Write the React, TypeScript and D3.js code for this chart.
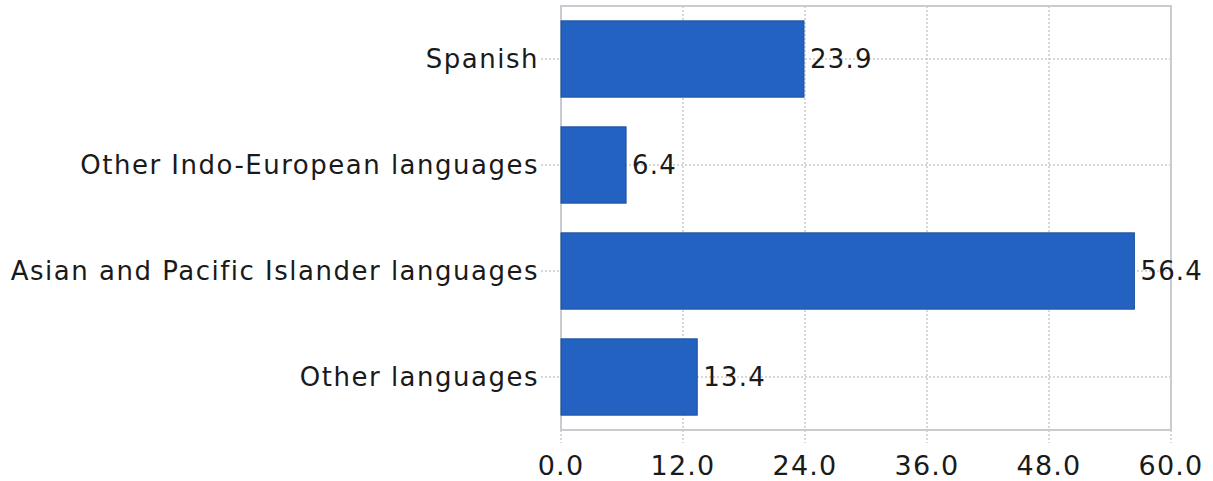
import React, { useEffect, useRef } from 'react';
import * as d3 from 'd3';

const categories = [
  'Spanish',
  'Other Indo-European languages',
  'Asian and Pacific Islander languages',
  'Other languages',
];
const values = [23.9, 6.4, 56.4, 13.4];
const xTicks = [0, 12, 24, 36, 48, 60];

export default function App() {
  const svgRef = useRef<SVGSVGElement>(null);

  useEffect(() => {
    if (!svgRef.current) return;
    const W = 1213;
    const H = 481;
    const margin = { top: 6, right: 42, bottom: 51, left: 561 };
    const width = W - margin.left - margin.right;
    const height = H - margin.top - margin.bottom;

    d3.select(svgRef.current).selectAll('*').remove();
    const svg = d3.select(svgRef.current)
      .attr('width', W)
      .attr('height', H)
      .append('g')
      .attr('transform', `translate(${margin.left},${margin.top})`);

    const font = '"DejaVu Sans", sans-serif';
    const grid = '#c6cacf';

    const x = d3.scaleLinear().domain([0, 60]).range([0, width]);
    const y = d3.scaleBand().domain(categories).range([0, height]).paddingInner(0.28).paddingOuter(0.14);
    const mid = (c: string) => y(c)! + y.bandwidth() / 2;

    // vertical grid lines + ticks below axis
    svg.selectAll('line.vgrid')
      .data(xTicks)
      .enter()
      .append('line')
      .attr('x1', d => x(d))
      .attr('x2', d => x(d))
      .attr('y1', 0)
      .attr('y2', height + 13)
      .attr('stroke', grid)
      .attr('stroke-width', 1.5)
      .attr('stroke-dasharray', '2,2');

    // horizontal grid lines through band centers, with ticks left of axis
    svg.selectAll('line.hgrid')
      .data(categories)
      .enter()
      .append('line')
      .attr('x1', -20)
      .attr('x2', width)
      .attr('y1', d => mid(d))
      .attr('y2', d => mid(d))
      .attr('stroke', grid)
      .attr('stroke-width', 1.5)
      .attr('stroke-dasharray', '2,2');

    // frame
    svg.append('rect')
      .attr('x', 0)
      .attr('y', 0)
      .attr('width', width)
      .attr('height', height)
      .attr('fill', 'none')
      .attr('stroke', '#c8ccd1')
      .attr('stroke-width', 2);

    // bars
    svg.selectAll('rect.bar')
      .data(categories)
      .enter()
      .append('rect')
      .attr('x', 0)
      .attr('y', d => y(d)!)
      .attr('width', (d, i) => x(values[i]))
      .attr('height', y.bandwidth())
      .attr('fill', '#2462c1')
      .attr('stroke', '#1d4f9c')
      .attr('stroke-width', 1);

    // value labels
    svg.selectAll('text.val')
      .data(categories)
      .enter()
      .append('text')
      .attr('x', (d, i) => x(values[i]) + 6)
      .attr('y', d => mid(d))
      .attr('dy', '0.36em')
      .style('font-family', font)
      .style('font-size', '26px')
      .style('letter-spacing', '1.2px')
      .attr('fill', '#1a1a1a')
      .text((d, i) => values[i].toFixed(1));

    // category labels
    svg.selectAll('text.cat')
      .data(categories)
      .enter()
      .append('text')
      .attr('x', -22)
      .attr('y', d => mid(d))
      .attr('dy', '0.36em')
      .attr('text-anchor', 'end')
      .style('font-family', font)
      .style('font-size', '26px')
      .style('letter-spacing', '1.5px')
      .attr('fill', '#1a1a1a')
      .text(d => d);

    // x tick labels
    svg.selectAll('text.xt')
      .data(xTicks)
      .enter()
      .append('text')
      .attr('x', d => x(d))
      .attr('y', height + 45)
      .attr('text-anchor', 'middle')
      .style('font-family', font)
      .style('font-size', '27px')
      .style('letter-spacing', '1.2px')
      .attr('fill', '#1a1a1a')
      .text(d => d.toFixed(1));
  }, []);

  return (
    <div style={{ position: 'absolute', left: 0, top: 0, background: '#fff' }}>
      <svg ref={svgRef} style={{ display: 'block' }}></svg>
    </div>
  );
}
